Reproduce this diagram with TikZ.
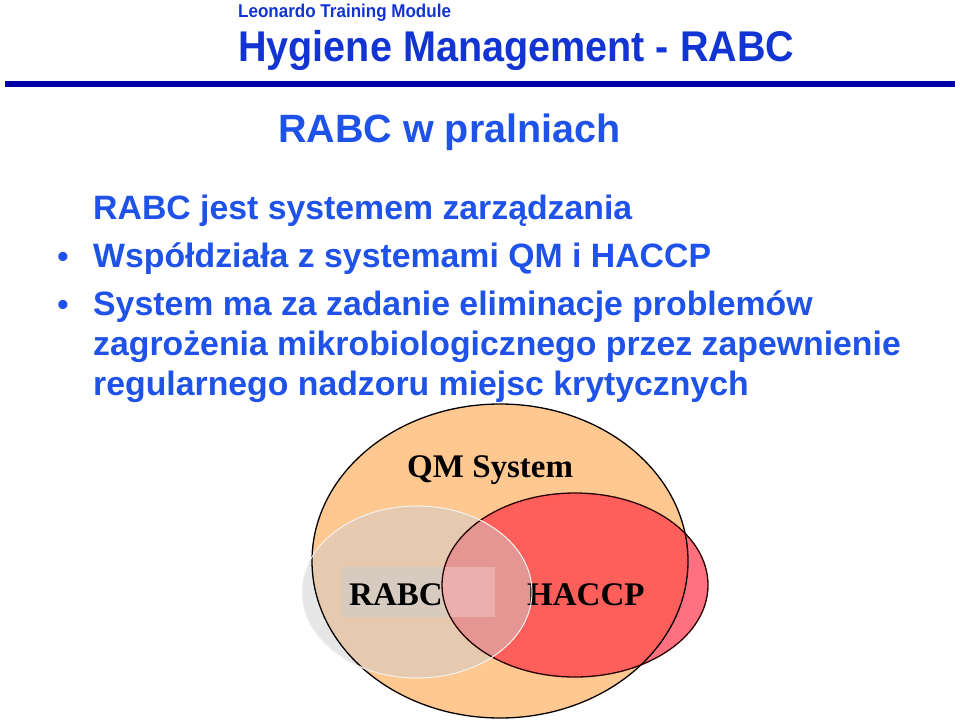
\documentclass[tikz,border=0pt]{standalone}
\usepackage{fontspec}
\setmainfont{Liberation Sans}
\newfontfamily\narrowfont[FakeStretch=0.92]{Liberation Sans}
\newfontfamily\timesfont{Liberation Serif}
\usetikzlibrary{positioning}

\definecolor{titleblue}{RGB}{18,52,210}
\definecolor{textblue}{RGB}{30,82,232}
\definecolor{barblue}{RGB}{0,0,170}
\definecolor{qmorange}{RGB}{255,200,145}
\definecolor{haccpred}{RGB}{255,95,90}
\definecolor{haccppink}{RGB}{255,112,128}
\definecolor{rabcgrey}{RGB}{205,205,205}

\tikzset{
  textline/.style={anchor=base west, inner sep=0pt, text=textblue, font=\fontsize{33.8}{38}\selectfont\bfseries},
  dot/.style={anchor=base, inner sep=0pt, text=textblue, font=\fontsize{32}{38}\selectfont\bfseries},
  venntext/.style={anchor=base west, inner sep=0pt, font=\fontsize{33}{36}\selectfont\timesfont\bfseries}
}

\begin{document}
\begin{tikzpicture}[x=1pt,y=-1pt]
    \useasboundingbox (0,0) rectangle (960,725);
    % header
    \node[anchor=base west, inner sep=0pt, text=titleblue, font=\fontsize{18.5}{20}\selectfont\narrowfont\bfseries] (module) at (238,18) {Leonardo Training Module};
    \node[anchor=base west, inner sep=0pt, text=titleblue, font=\fontsize{43}{46}\selectfont\narrowfont\bfseries] (title) at (238,62) {Hygiene Management - RABC};
    \draw[barblue, line width=6pt] (5,84) -- (955,84);
    \node[anchor=base west, inner sep=0pt, text=textblue, font=\fontsize{39.5}{42}\selectfont\bfseries] (sub) at (278,142) {RABC w pralniach};
    % text
    \node[textline] (l1) at (93,219) {RABC jest systemem zarządzania};
    \node[textline] (l2) at (93,267) {Współdziała z systemami QM i HACCP};
    \node[textline] (l3) at (93,315) {System ma za zadanie eliminacje problemów};
    \node[textline] (l4) at (93,355) {zagrożenia mikrobiologicznego przez zapewnienie};
    \node[textline] (l5) at (93,395) {regularnego nadzoru miejsc krytycznych};
    \node[dot] (b2) at (63,267) {•};
    \node[dot] (b3) at (63,315) {•};
    % venn
    \coordinate (qm) at (500,561);
    \coordinate (haccp) at (575,585);
    \coordinate (rabc) at (417,592);
    \fill[qmorange] (qm) ellipse [x radius=188, y radius=157];
    \fill[haccppink] (haccp) ellipse [x radius=133, y radius=92];
    \begin{scope}
        \clip (qm) ellipse [x radius=188, y radius=157];
        \fill[haccpred] (haccp) ellipse [x radius=133, y radius=92];
    \end{scope}
    \fill[rabcgrey, opacity=0.5] (rabc) ellipse [x radius=115, y radius=86];
    \node[venntext] (haccplabel) at (527,605) {HACCP};
    \fill[rabcgrey, opacity=0.55] (342,567) rectangle (495,617);
    \node[venntext] (rabclabel) at (349,605) {RABC};
    \begin{scope}
        \clip (haccp) ellipse [x radius=133, y radius=92];
        \fill[haccpred] (342,567) rectangle (495,617);
        \fill[rabcgrey, opacity=0.5] (342,567) rectangle (495,617);
        \fill[white, opacity=0.25] (342,567) rectangle (495,617);
    \end{scope}
    \draw[black, line width=1.3pt] (qm) ellipse [x radius=188, y radius=157];
    \draw[black!85!red, line width=1.3pt] (haccp) ellipse [x radius=133, y radius=92];
    \draw[white!90!gray, line width=1pt] (rabc) ellipse [x radius=115, y radius=86];
    \node[venntext] (qmlabel) at (407,477) {QM System};
\end{tikzpicture}
\end{document}
